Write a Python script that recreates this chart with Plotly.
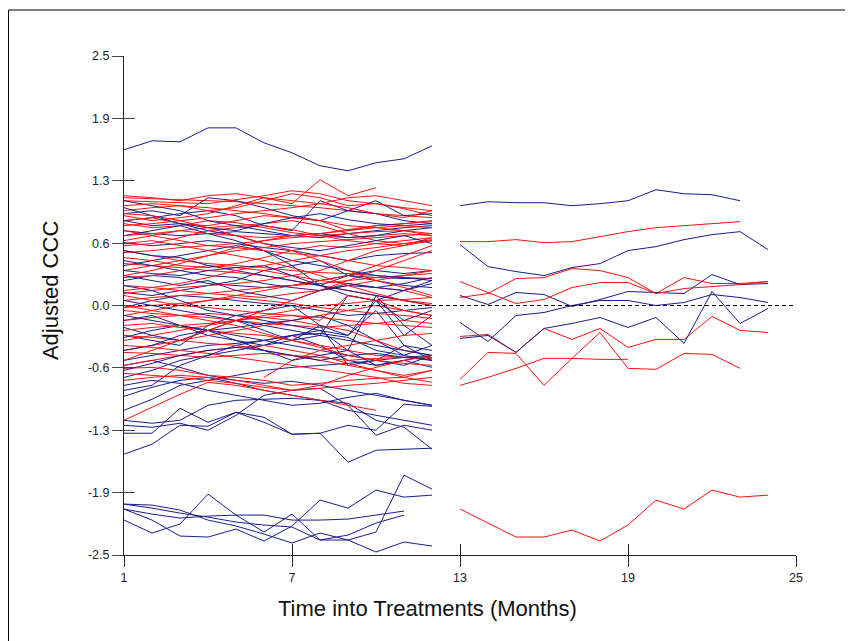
import plotly.graph_objects as go

# ---------------- data ----------------
months_first = list(range(1, 13))
months_second = list(range(13, 25))

ytick_vals = [-2.5, -1.875, -1.25, -0.625, 0.0, 0.625, 1.25, 1.875, 2.5]
ytick_text = ["-2.5", "-1.9", "-1.3", "-0.6", "0.0", "0.6", "1.3", "1.9", "2.5"]
xtick_vals = [1, 7, 13, 19, 25]

N = None
left_red = [
    [1.08, 1.07, 1.06, 1.05, 1.04, 1.02, 1.00, 0.98, 0.95, 0.92, 0.90, 0.88],
    [1.05, 1.04, 1.03, 1.02, 1.06, 1.10, 1.15, 1.12, 1.05, 1.02, 0.97, 0.90],
    [0.95, 0.98, 1.00, 0.95, 0.98, 1.05, 1.12, 1.08, 1.00, 1.02, 0.98, 0.95],
    [0.90, 0.85, 0.88, 0.92, 1.00, 1.08, 1.02, 1.26, 1.10, 1.18],
    [0.85, 0.88, 0.82, 0.80, 0.85, 0.90, 0.88, 0.85, 0.75, 0.80, 0.82, 0.85],
    [0.82, 0.78, 0.80, 0.85, 0.83, 0.78, 0.73, 0.70, 0.68, 0.70, 0.72, 0.70],
    [0.65, 0.70, 0.75, 0.78, 0.80, 0.82, 0.85, 0.80, 0.72, 0.65, 0.62, 0.65],
    [0.60, 0.62, 0.68, 0.75, 0.78, 0.80, 0.76, 0.70, 0.65, 0.62, 0.60, 0.68],
    [0.53, 0.55, 0.58, 0.60, 0.62, 0.65, 0.68, 0.70, 0.72, 0.74, 0.75, 0.72],
    [0.55, 0.50, 0.45, 0.42, 0.40, 0.38, 0.35, 0.33, 0.32, 0.30, 0.28, 0.27],
    [0.48, 0.45, 0.40, 0.38, 0.42, 0.48, 0.55, 0.60, 0.58, 0.62, 0.65, 0.68],
    [0.42, 0.40, 0.38, 0.35, 0.33, 0.30, 0.25, 0.20, 0.15, 0.10, 0.05, 0.02],
    [0.35, 0.40, 0.45, 0.50, 0.55, 0.58, 0.62, 0.64, 0.66, 0.68, 0.70, 0.72],
    [0.28, 0.30, 0.35, 0.40, 0.38, 0.35, 0.30, 0.25, 0.22, 0.18, 0.15, 0.08],
    [0.20, 0.18, 0.15, 0.12, 0.10, 0.08, 0.12, 0.15, 0.20, 0.25, 0.30, 0.35],
    [0.12, 0.15, 0.18, 0.20, 0.22, 0.25, 0.30, 0.35, 0.45, 0.55, 0.60, 0.65],
    [0.05, 0.08, 0.10, 0.12, 0.15, 0.18, 0.20, 0.22, 0.25, 0.28, 0.30, 0.32],
    [-0.02, 0.00, 0.02, 0.05, 0.08, 0.05, 0.02, -0.02, -0.05, -0.08, -0.10, -0.13],
    [-0.05, -0.08, -0.10, -0.12, -0.15, -0.18, -0.20, -0.22, -0.20, -0.18, -0.15, -0.18],
    [-0.10, -0.05, 0.00, 0.05, 0.10, 0.15, 0.20, 0.25, 0.30, 0.40, 0.50, 0.60],
    [-0.15, -0.12, -0.10, -0.08, -0.10, -0.12, -0.15, -0.20, -0.25, -0.35, -0.45, -0.50],
    [-0.20, -0.18, -0.22, -0.25, -0.28, -0.30, -0.35, -0.40, -0.45, -0.50, -0.52, -0.53],
    [-0.30, -0.32, -0.35, -0.38, -0.40, -0.45, -0.50, -0.55, -0.60, -0.65, -0.70, -0.65],
    [-0.35, -0.30, -0.25, -0.20, -0.15, -0.10, -0.05, 0.00, 0.02, 0.05, 0.06, 0.08],
    [-0.45, -0.40, -0.35, -0.30, -0.25, -0.20, -0.15, -0.10, -0.05, 0.00, -0.05, -0.10],
    [-0.47, -0.48, -0.50, -0.52, -0.50, -0.48, -0.50, -0.52, -0.55, -0.53, -0.52, -0.52],
    [-0.60, -0.55, -0.50, -0.45, -0.42, -0.40, -0.45, -0.50, -0.58, -0.65, -0.72, -0.65],
    [-0.63, -0.62, -0.65, -0.70, -0.72, -0.75, -0.80, -0.78, -0.75, -0.73, -0.72, -0.77],
    [-0.75, -0.72, -0.70, -0.72, -0.75, -0.80, -0.85, -0.83, -0.80, -0.78, -0.75, -0.72],
    [-1.15, -1.02, -0.89, -0.77, -0.80, -0.85, -0.90, -0.95, -1.00, -1.05],
    [N, N, N, N, N, -0.72, -0.55, -0.45, -0.40, -0.35, -0.30, -0.28],
    [0.70, 0.72, 0.75, 0.72, 0.70, 0.68, 0.70, 0.72, 0.76, 0.80, 0.82, 0.84],
    [0.75, 0.70, 0.65, 0.60, 0.58, 0.55, 0.52, 0.50, 0.45, 0.40, 0.38, 0.35],
    [1.00, 1.02, 1.00, 0.98, 0.95, 0.92, 0.88, 0.85, 0.80, 0.78, 0.75, 0.70],
    [0.10, 0.05, 0.00, -0.02, -0.05, -0.08, -0.10, -0.12, -0.15, -0.18, -0.20, -0.22],
    [-0.25, -0.22, -0.20, -0.18, -0.15, -0.12, -0.10, -0.15, 0.10, 0.05, -0.05, -0.10],
    [0.92, 0.90, 0.85, 0.78, 0.70, 0.62, 0.55, 0.45, 0.35, 0.25, 0.18, 0.10],
    [0.62, 0.65, 0.60, 0.55, 0.50, 0.45, 0.38, 0.30, 0.20, 0.12, 0.05, 0.00],
    [0.30, 0.35, 0.42, 0.50, 0.58, 0.65, 0.70, 0.72, 0.75, 0.78, 0.80, 0.78],
    [-0.55, -0.45, -0.35, -0.25, -0.15, -0.05, 0.05, 0.15, 0.25, 0.35, 0.45, 0.55],
    [0.00, -0.05, -0.10, -0.15, -0.20, -0.28, -0.35, -0.42, -0.50, -0.55, -0.58, -0.60],
    [-0.68, -0.70, -0.72, -0.75, -0.78, -0.82, -0.85, -0.80, -0.70, -0.62, -0.55, -0.50],
    [0.80, 0.82, 0.85, 0.88, 0.92, 0.95, 0.98, 1.02, 0.98, 0.92, 0.88, 0.95],
    [0.15, 0.18, 0.22, 0.28, 0.35, 0.40, 0.45, 0.50, 0.55, 0.58, 0.62, 0.66],
    [-0.40, -0.42, -0.45, -0.48, -0.52, -0.56, -0.60, -0.64, -0.68, -0.72, -0.78, -0.80],
    [1.10, 1.08, 1.05, 1.10, 1.12, 1.08, 1.05, 1.02, 1.08, 1.10, 1.05, 1.00],
]

left_blue = [
    [1.56, 1.65, 1.64, 1.78, 1.78, 1.63, 1.53, 1.40, 1.35, 1.43, 1.47, 1.60],
    [0.92, 0.95, 0.90, 1.08, 1.05, 0.98, 0.90, 0.85, 0.95, 0.92, 0.85, 0.82],
    [0.85, 0.88, 0.92, 0.95, 0.90, 0.80, 0.75, 1.05, 0.95, 1.05, 0.90, 0.92],
    [0.75, 0.72, 0.70, 0.72, 0.74, 0.72, 0.70, 0.68, 0.72, 0.75, 0.78, 0.80],
    [0.63, 0.60, 0.62, 0.65, 0.62, 0.58, 0.55, 0.50, 0.45, 0.50, 0.52, 0.53],
    [0.40, 0.45, 0.50, 0.55, 0.60, 0.55, 0.40, 0.20, 0.30, 0.35, 0.32, 0.35],
    [0.25, 0.30, 0.28, 0.22, 0.20, 0.18, 0.20, 0.25, 0.30, 0.28, 0.27, 0.27],
    [0.13, 0.10, 0.15, 0.20, 0.25, 0.35, 0.40, 0.45, 0.30, 0.25, 0.20, 0.18],
    [-0.02, 0.05, 0.10, 0.08, 0.05, 0.02, 0.00, -0.05, -0.10, -0.08, -0.05, -0.02],
    [-0.15, -0.10, -0.20, -0.30, -0.35, -0.40, -0.30, -0.25, -0.45, 0.10, -0.20, -0.40],
    [-0.30, -0.35, -0.40, -0.20, -0.10, -0.05, 0.00, -0.20, -0.60, -0.55, -0.60, -0.50],
    [-0.32, -0.25, -0.20, -0.25, -0.30, -0.35, -0.40, -0.45, -0.50, -0.55, -0.40, -0.45],
    [-0.55, -0.50, -0.45, -0.40, -0.38, -0.35, -0.30, -0.28, -0.32, -0.45, -0.50, -0.40],
    [-0.72, -0.65, -0.55, -0.50, -0.40, -0.35, -0.30, -0.40, -0.55, -0.60, -0.55, -0.50],
    [-0.85, -0.80, -0.60, -0.50, -0.45, -0.40, -0.35, -0.30, 0.10, 0.05, -0.30, -0.10],
    [-0.91, -0.82, -0.75, -0.72, -0.78, -0.85, -0.90, -0.95, -1.05, -1.10, -1.15, -1.20],
    [-1.05, -0.94, -0.80, -0.75, -0.70, -0.65, -0.62, -0.60, -0.58, -0.55, -0.52, -0.50],
    [-1.15, -1.18, -1.15, -1.00, -0.95, -0.94, -0.93, -0.95, -0.98, -1.15, -1.22, -1.44],
    [-1.28, -1.28, -1.03, -1.17, -1.07, -1.12, -1.29, -1.28, -1.20, -1.25, -0.99, -1.01],
    [-1.49, -1.39, -1.20, -1.21, -1.07, -1.17, -1.29, -1.28, -1.57, -1.45, -1.44, -1.43],
    [-1.20, -1.22, -1.18, -1.25, -1.10, -0.90, -0.85, -0.83, -1.00, -1.30, -1.20, -1.25],
    [0.55, 0.50, 0.48, 0.40, 0.35, 0.30, 0.25, 0.20, 0.15, 0.10, 0.05, 0.00],
    [0.30, 0.25, 0.20, 0.25, 0.15, 0.10, 0.05, 0.15, 0.22, 0.18, 0.15, 0.22],
    [0.98, 0.90, 0.82, 0.75, 0.70, 0.62, 0.58, 0.55, 0.60, 0.65, 0.70, 0.62],
    [0.05, 0.00, -0.05, -0.10, -0.15, -0.20, -0.25, -0.30, -0.35, -0.40, -0.45, -0.50],
    [0.20, 0.15, 0.05, -0.05, -0.10, -0.15, -0.20, -0.25, -0.30, -0.05, -0.40, -0.55],
    [-0.60, -0.55, -0.62, -0.70, -0.75, -0.78, -0.76, -0.80, -0.85, -0.90, -0.95, -1.00],
    [1.05, 1.00, 0.95, 0.85, 0.80, 0.75, 0.70, 0.72, 0.68, 0.70, 0.75, 0.78],
    [0.70, 0.75, 0.80, 0.72, 0.65, 0.55, 0.45, 0.40, 0.35, 0.30, 0.28, 0.25],
    [0.45, 0.40, 0.35, 0.30, 0.28, 0.22, 0.18, 0.15, 0.20, 0.18, 0.22, 0.28],
    [-0.10, -0.15, -0.20, -0.25, -0.22, -0.18, -0.15, -0.10, -0.20, -0.35, -0.50, -0.55],
    [-0.45, -0.40, -0.30, -0.25, -0.35, -0.45, -0.55, -0.50, -0.45, -0.60, -0.55, -0.62],
    [-0.22, -0.30, -0.35, -0.25, -0.15, -0.25, -0.35, -0.20, -0.30, 0.05, -0.15, -0.05],
    [0.35, 0.32, 0.30, 0.35, 0.38, 0.40, 0.30, 0.20, 0.10, 0.05, 0.15, 0.25],
    [-0.80, -0.75, -0.78, -0.85, -0.90, -0.95, -1.00, -0.98, -0.92, -0.88, -0.95, -1.00],
    [0.85, 0.80, 0.82, 0.78, 0.75, 0.82, 0.88, 0.92, 0.86, 0.82, 0.80, 0.82],
    [-0.65, -0.58, -0.50, -0.45, -0.42, -0.45, -0.50, -0.55, -0.50, -0.48, -0.52, -0.55],
    [-1.99, -2.00, -2.05, -2.15, -2.21, -2.29, -2.38, -2.28, -2.35, -2.47, -2.37, -2.41],
    [-2.04, -2.09, -2.13, -2.11, -2.10, -2.10, -2.15, -2.15, -2.14, -2.10, -2.06],
    [-2.15, -2.28, -2.19, -1.89, -2.10, -2.27, -2.09, -2.35, -2.35, -2.27, -1.70, -1.84],
    [-2.04, -2.15, -2.31, -2.32, -2.24, -2.36, -2.21, -1.95, -2.03, -1.85, -1.92, -1.90],
    [-1.99, -2.03, -2.08, -2.12, -2.17, -2.20, -2.22, -2.35, -2.30, -2.18, -2.10],
]

right_red = [
    [0.64, 0.64, 0.66, 0.63, 0.64, 0.69, 0.74, 0.78, 0.80, 0.82, 0.84],
    [0.08, 0.12, 0.27, 0.28, 0.37, 0.35, 0.28, 0.12, 0.28, 0.22, 0.22, 0.24],
    [0.24, 0.13, 0.02, 0.06, 0.18, 0.23, 0.23, 0.12, 0.17, 0.19, 0.21, 0.24],
    [-0.31, -0.29, -0.47, -0.23, -0.34, -0.23, -0.42, -0.34, -0.34, -0.11, -0.25, -0.27],
    [-0.74, -0.47, -0.48, -0.80, -0.53, -0.27, -0.63, -0.64, -0.48, -0.49, -0.63],
    [-0.80, -0.72, -0.63, -0.53, -0.53, -0.54, -0.54],
    [-2.04, -2.18, -2.32, -2.32, -2.25, -2.36, -2.20, -1.95, -2.04, -1.85, -1.92, -1.90],
]

right_blue = [
    [1.00, 1.04, 1.03, 1.03, 1.00, 1.02, 1.05, 1.16, 1.12, 1.11, 1.05],
    [0.61, 0.39, 0.34, 0.30, 0.38, 0.42, 0.55, 0.59, 0.66, 0.71, 0.74, 0.56],
    [0.10, 0.01, 0.13, 0.11, -0.01, 0.06, 0.14, 0.13, 0.12, 0.31, 0.21, 0.22],
    [-0.17, -0.36, -0.10, -0.07, 0.00, 0.05, 0.05, 0.00, 0.03, 0.11, 0.08, 0.03],
    [-0.33, -0.30, -0.47, -0.23, -0.18, -0.12, -0.22, -0.12, -0.38, 0.14, -0.18, -0.03],
]

zero_x = [1, 25]
zero_y = [0, 0]

BLUE = "#1c1c8c"
RED = "#ff1010"

# ---------------- figure ----------------
fig = go.Figure()


def add_line(xs, ys, color):
    fig.add_trace(go.Scatter(x=xs[:len(ys)], y=ys, mode="lines",
                             line=dict(color=color, width=1),
                             showlegend=False, hoverinfo="skip"))


# interleave colours so neither sits fully on top
nl = max(len(left_red), len(left_blue))
for i in range(nl):
    if i < len(left_blue):
        add_line(months_first, left_blue[i], BLUE)
    if i < len(left_red):
        add_line(months_first, left_red[i], RED)
for i in range(max(len(right_red), len(right_blue))):
    if i < len(right_blue):
        add_line(months_second, right_blue[i], BLUE)
    if i < len(right_red):
        add_line(months_second, right_red[i], RED)

fig.add_trace(go.Scatter(x=zero_x, y=zero_y, mode="lines",
                         line=dict(color="#000000", width=1, dash="4px,3px"),
                         showlegend=False, hoverinfo="skip"))

# invisible trace to activate overlay axes (cross ticks)
fig.add_trace(go.Scatter(x=zero_x, y=zero_y, xaxis="x2", yaxis="y2", mode="lines",
                         line=dict(color="rgba(0,0,0,0)", width=0),
                         showlegend=False, hoverinfo="skip"))

tickfont = dict(family="Liberation Sans, Arial, sans-serif", size=12.5, color="#222222")
titlefont = dict(family="Liberation Sans, Arial, sans-serif", size=22, color="#111111")

L, T, W, H = 116, 48, 672, 499

fig.update_layout(
    width=853, height=641,
    margin=dict(l=L, r=853 - L - W, t=T, b=641 - T - H),
    paper_bgcolor="white", plot_bgcolor="white",
    showlegend=False,
    xaxis=dict(range=[1, 25], tickvals=xtick_vals, ticktext=[str(v) for v in xtick_vals],
               ticks="outside", ticklen=11, tickwidth=1, tickcolor="#222222",
               showline=True, linecolor="#222222", linewidth=1,
               showgrid=False, zeroline=False, tickfont=tickfont),
    yaxis=dict(range=[-2.5, 2.5], tickvals=ytick_vals, ticktext=ytick_text,
               ticks="outside", ticklen=11, tickwidth=1, tickcolor="#444444",
               showline=True, linecolor="#222222", linewidth=1,
               showgrid=False, zeroline=False, tickfont=tickfont),
    xaxis2=dict(range=[1, 25], overlaying="x", anchor="y2", side="bottom",
                tickvals=xtick_vals, ticks="inside", ticklen=11, tickwidth=1,
                tickcolor="#222222", showticklabels=False, showline=False,
                showgrid=False, zeroline=False),
    yaxis2=dict(range=[-2.5, 2.5], overlaying="y", anchor="x2", side="left",
                tickvals=ytick_vals, ticks="inside", ticklen=11, tickwidth=1,
                tickcolor="#444444", showticklabels=False, showline=False,
                showgrid=False, zeroline=False),
    annotations=[
        dict(text="Adjusted CCC", xref="paper", yref="paper", x=-0.110, y=0.531,
             textangle=-90, showarrow=False, xanchor="center", yanchor="middle",
             font=titlefont),
        dict(text="Time into Treatments (Months)", xref="paper", yref="paper",
             x=0.452, y=-0.108, showarrow=False, xanchor="center", yanchor="middle",
             font=titlefont),
    ],
    shapes=[
        dict(type="rect", xref="paper", yref="paper",
             x0=(0.5 - L) / W, x1=(880 - L) / W,
             y0=(T + H - 700) / H, y1=(T + H - 2) / H,
             line=dict(color="#000000", width=1), fillcolor="rgba(0,0,0,0)", layer="below"),
    ],
)

fig.write_html("out.html")
